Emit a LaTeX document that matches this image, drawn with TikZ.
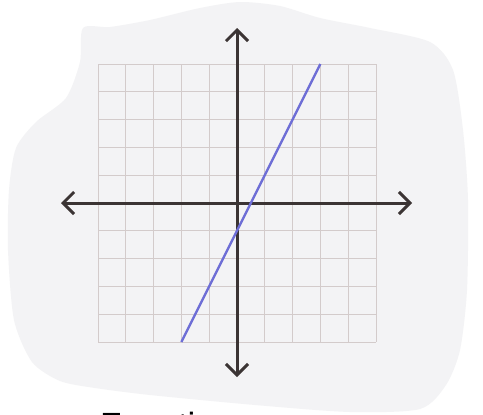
\documentclass[tikz,border=0pt]{standalone}
\usepackage{fontspec}
\setmainfont{Liberation Sans}
\usetikzlibrary{arrows.meta}
\definecolor{paper}{HTML}{F3F3F5}
\definecolor{gridc}{HTML}{D3CBCB}
\definecolor{axisc}{HTML}{3B3434}
\definecolor{linec}{HTML}{6E6ED6}
\tikzset{
  gridline/.style={draw=gridc, line width=1pt},
  axisline/.style={draw=axisc, line width=3pt, {Straight Barb[length=11pt,width=22pt]}-{Straight Barb[length=11pt,width=22pt]}},
  graphline/.style={draw=linec, line width=2.4pt},
}
\begin{document}
\begin{tikzpicture}[x=1pt,y=-1pt]
\clip (0,0) rectangle (483,415);
\fill[white] (0,0) rectangle (483,415);
% paper
\fill[paper] plot[smooth cycle, tension=0.45] coordinates {
 (83,28) (80,62) (66,98) (36,122) (16,148) (9,190) (8,250) (14,320) (32,362) (60,381)
 (95,388) (150,395) (255,405) (350,412) (420,409) (446,385) (460,350) (467,290)
 (468,200) (463,130) (453,70) (430,42) (370,28) (320,18) (280,6) (240,2) (200,8) (150,20) (110,27)};
% grid
\foreach \i in {0,...,10}{
  \draw[gridline] ({98+27.8*\i},64) -- ({98+27.8*\i},342);
  \draw[gridline] (98,{64+27.8*\i}) -- (376,{64+27.8*\i});
}
% axes
\coordinate (xl) at (61,203);
\coordinate (xr) at (412,203);
\coordinate (yt) at (237,28);
\coordinate (yb) at (237,377);
\draw[axisline] (xl) -- (xr);
\draw[axisline] (yt) -- (yb);
% graph y = 2x - 1
\coordinate (p1) at (181.4,342);
\coordinate (p2) at (320.4,64);
\draw[graphline] (p1) -- (p2);
% caption (cut off at the lower edge, as in the reference)
\node[anchor=base west, inner sep=0pt, font=\fontsize{35}{40}\selectfont] (cap) at (100,437) {Function};
\end{tikzpicture}
\end{document}
